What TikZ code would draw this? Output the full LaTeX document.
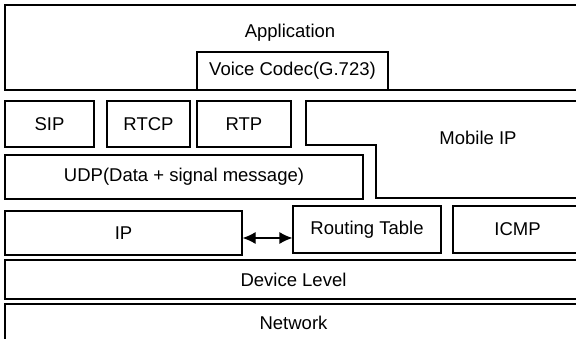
\documentclass[tikz,border=0pt]{standalone}
\usepackage{fontspec}
\setmainfont{Liberation Sans}
\usetikzlibrary{arrows.meta}

\tikzset{
  layer/.style={draw, line width=1.2pt, inner sep=0pt, rectangle},
  lbl/.style={inner sep=0pt},
}

\begin{document}
\begin{tikzpicture}[x=1pt, y=-1pt, font=\fontsize{18.5}{21}\selectfont]
    \useasboundingbox (0,0) rectangle (576,339);
    % application part
    \node[layer, minimum width=575, minimum height=85] (app) at (292.5, 47.5) {};
    \node[lbl] (apptext) at (290, 33) {Application};
    \node[layer, minimum width=191, minimum height=38] (codec) at (292.5, 71) {Voice Codec(G.723)};
    % transport part
    \node[layer, minimum width=89, minimum height=46] (sip) at (49.5, 124) {SIP};
    \node[layer, minimum width=83, minimum height=46] (rtcp) at (148.5, 124) {RTCP};
    \node[layer, minimum width=94, minimum height=46] (rtp) at (244, 124) {RTP};
    \node[layer, minimum width=358, minimum height=44] (udp) at (184, 177) {UDP(Data + signal message)};
    \draw[line width=1.2pt] (306, 101) -- (582, 101) -- (582, 198) -- (376, 198)
      -- (376, 145) -- (306, 145) -- cycle;
    \node[lbl] (mip) at (478, 138) {Mobile IP};
    % network part
    \node[layer, minimum width=237, minimum height=44] (ip) at (123.5, 233) {IP};
    \node[layer, minimum width=148, minimum height=47] (rt) at (367, 229.5) {Routing Table};
    \node[layer, minimum width=129, minimum height=47] (icmp) at (517.5, 229.5) {ICMP};
    \draw[{Latex[length=13pt, width=12pt]}-{Latex[length=13pt, width=12pt]}, line width=1.2pt]
      ([yshift=-5pt]ip.east) -- ([yshift=-5pt]ip.east -| rt.west);
    \node[layer, minimum width=577, minimum height=39] (dev) at (293.5, 279.5) {Device Level};
    \node[layer, minimum width=577, minimum height=38] (net) at (293.5, 323) {Network};
\end{tikzpicture}
\end{document}
